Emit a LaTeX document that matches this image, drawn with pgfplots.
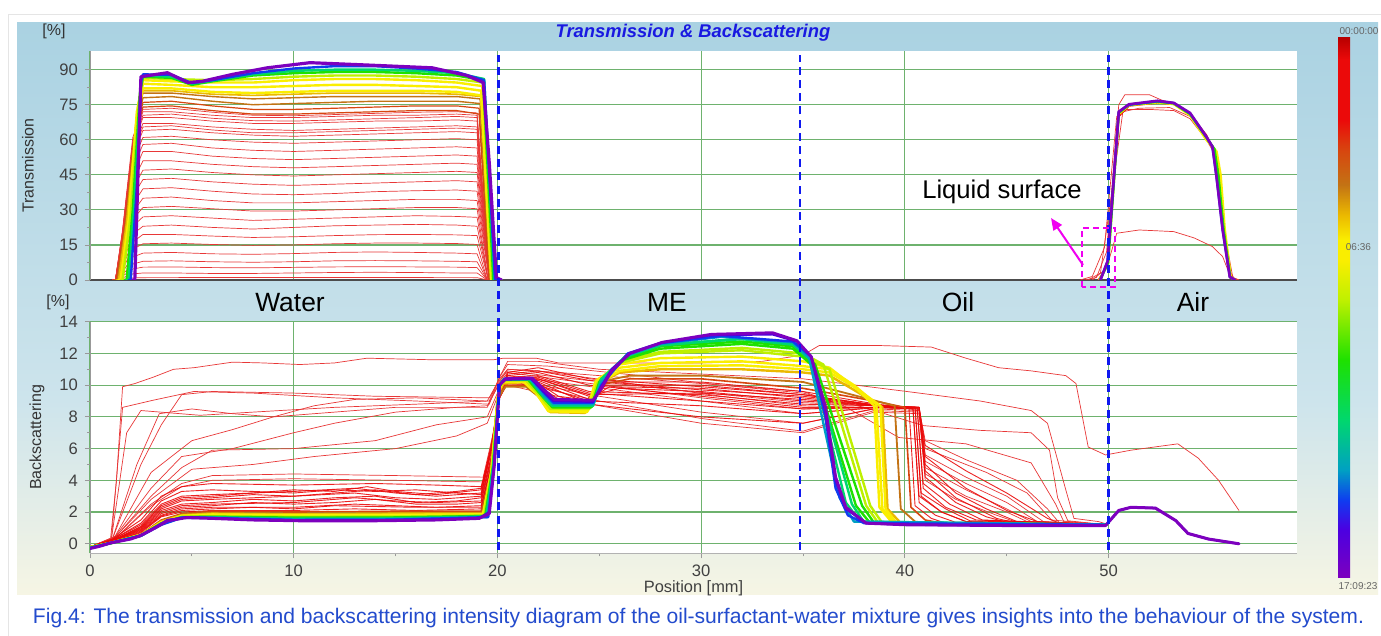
\documentclass[border=0pt]{standalone}
\usepackage{fontspec}
\setmainfont{Liberation Sans}
\usepackage{graphicx}
\usepackage{pgfplots}
\pgfplotsset{compat=1.18}
\usetikzlibrary{arrows.meta}

\definecolor{cDR}{RGB}{185,0,0}
\definecolor{cRe}{RGB}{235,10,10}
\definecolor{cRo}{RGB}{215,70,15}
\definecolor{cBr}{RGB}{195,115,20}
\definecolor{cOr}{RGB}{235,185,0}
\definecolor{cYe}{RGB}{250,238,0}
\definecolor{cYG}{RGB}{190,240,0}
\definecolor{cGr}{RGB}{30,225,0}
\definecolor{cGC}{RGB}{0,215,110}
\definecolor{cCy}{RGB}{0,160,195}
\definecolor{cBl}{RGB}{15,60,240}
\definecolor{cIn}{RGB}{75,0,225}
\definecolor{cVi}{RGB}{125,0,190}
\definecolor{lred}{RGB}{232,55,55}
\definecolor{gridg}{RGB}{110,178,110}
\definecolor{titleblue}{RGB}{25,25,225}
\definecolor{capblue}{RGB}{35,75,205}
\definecolor{dashblue}{RGB}{15,25,240}
\definecolor{mag}{RGB}{240,0,240}
\definecolor{ptop}{RGB}{170,210,226}
\definecolor{pmid}{RGB}{205,228,236}
\definecolor{pbot}{RGB}{246,245,228}

\pgfdeclareverticalshading{panelbg}{100bp}{color(0bp)=(pbot); color(25bp)=(pbot); color(42bp)=(pmid); color(75bp)=(ptop); color(100bp)=(ptop)}
\pgfdeclareverticalshading{timebar}{100bp}{color(0bp)=(cVi); color(25bp)=(cVi); color(29.5bp)=(cIn); color(32.2bp)=(cBl); color(35bp)=(cCy); color(39.6bp)=(cGC); color(45.2bp)=(cGr); color(50.7bp)=(cYG); color(54.4bp)=(cYe); color(56.3bp)=(cYe); color(58.6bp)=(cOr); color(61.4bp)=(cBr); color(64.6bp)=(cRo); color(67.4bp)=(cRe); color(73bp)=(cRe); color(75bp)=(cDR); color(100bp)=(cDR)}

\pgfplotsset{
  myaxis/.style={
    scale only axis, width=603.5pt, xmin=0, xmax=59.25,
    xtick={0,10,20,30,40,50},
    axis background/.style={fill=white},
    axis x line*=bottom, axis y line*=left,
    xmajorgrids, ymajorgrids,
    major grid style={draw=gridg, line width=0.6pt},
    tick align=outside, major tick length=2.5pt, minor tick length=1.5pt,
    tick style={draw=gray!80, line width=0.4pt},
    tick label style={font=\fontsize{8.3}{9}\selectfont, text=black!75},
    /pgf/number format/assume math mode=true,
    minor y tick num=1,
    every axis plot/.append style={line join=round, line cap=round},
  },
  redthin/.style={draw=lred, line width=0.35pt},
  redmid/.style={draw=cRe, line width=0.45pt, opacity=0.9},
  rbow/.style={draw=#1, line width=1.2pt},
}

\begin{document}
\begin{tikzpicture}
\path[use as bounding box] (0pt,0pt) rectangle (690.5pt,318pt);
\fill[white] (0pt,0pt) rectangle (690.5pt,318pt);
\draw[gray!20, line width=0.5pt] (4pt,0pt) -- (4pt,310.5pt) -- (690.5pt,310.5pt);
\shade[shading=panelbg] (8.5pt,20.5pt) rectangle (689pt,306.5pt);

% ---------------- Transmission ----------------
\begin{axis}[myaxis, at={(45pt,178pt)}, anchor=south west, height=114.5pt,
  ymin=0, ymax=98, ytick={0,15,...,90}, xticklabels={}, xtick style={draw=none},
  x axis line style={draw=black!70, line width=0.6pt},
  y axis line style={draw=gray!80},
  ylabel={Transmission},
  ylabel style={at={(axis description cs:-0.0514,0.5)}, anchor=center, font=\fontsize{8}{9}\selectfont, text=black!80}]
\addplot[redthin] coordinates {(1.1,0)(1.25,0)(1.6,0.3)(2.1,0.9)(2.6,1)(10,1.1)(19,1)(19.5,0)(20.2,0)};
\addplot[redthin] coordinates {(1.1,0)(1.25,0)(1.6,0.9)(2.1,2.6)(2.6,3)(4,3)(6,2.8)(8,2.8)(10,3)(12,3.2)(14,3.3)(16,3.2)(18,3)(19,3)(19.5,0)(20.2,0)};
\addplot[redthin] coordinates {(1.1,0)(1.25,0)(1.6,1.7)(2.1,4.7)(2.6,5.5)(4,5.6)(6,5.3)(8,5.2)(10,5.4)(12,5.6)(14,5.7)(16,5.6)(18,5.5)(19,5.3)(19.5,0)(20.2,0)};
\addplot[redthin] coordinates {(1.1,0)(1.25,0)(1.6,2.4)(2.1,6.8)(2.6,8)(4,8.2)(6,7.8)(8,7.6)(10,7.8)(12,8.2)(14,8.3)(16,8.2)(18,8)(19,7.8)(19.5,0)(20.2,0)};
\addplot[redthin] coordinates {(1.1,0)(1.25,0)(1.6,3.5)(2.1,9.8)(2.6,11.5)(4,11.8)(6,11.2)(8,11)(10,11.3)(12,11.8)(14,12)(16,11.8)(18,11.5)(19,11.2)(19.5,0)(20.2,0)};
\addplot[redthin] coordinates {(1.1,0)(1.25,0)(1.6,4.7)(2.1,13.2)(2.6,15.5)(4,15.8)(6,15.2)(8,14.8)(10,15)(12,15.5)(14,15.8)(16,15.8)(18,15.6)(19,15.2)(19.5,0)(20.2,0)};
\addplot[redthin] coordinates {(1.1,0)(1.25,0)(1.6,5.7)(2.1,16.2)(2.6,19.5)(4,19.5)(6,18.8)(8,18.2)(10,18.5)(12,19)(14,19.4)(16,19.5)(18,19.3)(19,19)(19.55,0)(20.2,0)};
\addplot[redthin] coordinates {(1.1,0)(1.25,0)(1.6,6.9)(2.1,19.6)(2.6,23)(4,23.5)(6,22.5)(8,21.8)(10,22.5)(12,23.2)(14,23.5)(16,23.8)(18,23.5)(19,23)(19.55,0)(20.2,0)};
\addplot[redthin] coordinates {(1.1,0)(1.25,0)(1.6,8.1)(2.1,23)(2.6,27)(4,27.5)(6,26.5)(8,25.5)(10,26)(12,26.5)(14,27)(16,27.5)(18,27.2)(19,26.8)(19.55,0)(20.2,0)};
\addplot[redthin] coordinates {(1.1,0)(1.25,0)(1.6,9.2)(2.1,26)(2.6,31)(4,31.5)(6,30.5)(8,29.5)(10,29.5)(12,30)(14,30.5)(16,31)(18,31)(19,30.5)(19.55,0)(20.2,0)};
\addplot[redthin] coordinates {(1.1,0)(1.25,0)(1.6,10.2)(2.1,29)(2.6,35)(4,35.5)(6,34)(8,33)(10,33)(12,33.5)(14,34)(16,34.5)(18,34.5)(19,34)(19.6,0)(20.2,0)};
\addplot[redthin] coordinates {(1.1,0)(1.25,0)(1.6,11.4)(2.1,32.3)(2.6,39)(4,39.5)(6,38)(8,36.8)(10,36.5)(12,37)(14,37.8)(16,38.2)(18,38.5)(19,38)(19.6,0)(20.2,0)};
\addplot[redthin] coordinates {(1.1,0)(1.25,0)(1.6,12.6)(2.1,35.7)(2.6,43)(4,43.5)(6,42)(8,41)(10,40.5)(12,41)(14,41.5)(16,42)(18,42.5)(19,42)(19.6,0)(20.2,0)};
\addplot[redthin] coordinates {(1.1,0)(1.25,0)(1.6,13.8)(2.1,39.1)(2.6,47)(4,47.5)(6,46)(8,45)(10,44.5)(12,45)(14,45.5)(16,46)(18,46.5)(19,46)(19.6,0)(20.2,0)};
\addplot[redthin] coordinates {(1.1,0)(1.25,0)(1.6,14.9)(2.1,42)(2.6,51)(4,51)(6,49.5)(8,48.5)(10,48)(12,48.5)(14,49)(16,49.5)(18,50)(19,49.5)(19.6,0)(20.2,0)};
\addplot[redthin] coordinates {(1.1,0)(1.25,0)(1.6,15.9)(2.1,45)(2.6,55)(4,55)(6,53)(8,52)(10,51.5)(12,52)(14,52.5)(16,53)(18,53.5)(19,53)(19.6,0)(20.2,0)};
\addplot[redthin] coordinates {(1.1,0)(1.25,0)(1.6,17)(2.1,48)(2.6,58)(4,58.5)(6,56.5)(8,55.5)(10,55)(12,55.5)(14,56)(16,56.5)(18,57)(19,56.5)(19.6,0)(20.2,0)};
\addplot[redthin] coordinates {(1.1,0)(1.25,0)(1.6,17.9)(2.1,50.6)(2.6,61)(4,61.5)(6,60)(8,59)(10,58.5)(12,59)(14,59.5)(16,60)(18,60.5)(19,60)(19.6,0)(20.2,0)};
\addplot[redthin] coordinates {(1.1,0)(1.25,0)(1.6,18.8)(2.1,53)(2.6,64)(4,64.5)(6,63)(8,62)(10,61.5)(12,62)(14,62.5)(16,63)(18,63.5)(19,63)(19.6,0)(20.2,0)};
\addplot[redthin] coordinates {(1.1,0)(1.25,0)(1.6,19.2)(2.1,54.4)(2.6,65.5)(4,66)(6,64.2)(8,63)(10,63)(12,63.5)(14,64)(16,64.5)(18,65)(19,64.5)(19.6,0)(20.2,0)};
\addplot[redthin] coordinates {(1.1,0)(1.25,0)(1.6,19.5)(2.1,55)(2.6,67)(4,67)(6,65.5)(8,64.5)(10,64)(12,64.5)(14,65)(16,65.5)(18,66)(19,65.5)(19.6,0)(20.2,0)};
\addplot[redthin] coordinates {(1.1,0)(1.25,0)(1.6,20.3)(2.1,57.4)(2.6,69.5)(4,69.5)(6,68)(8,67)(10,67)(12,67.5)(14,68)(16,68)(18,68.5)(19,68)(19.6,0)(20.2,0)};
\addplot[redthin] coordinates {(1.1,0)(1.25,0)(1.6,20.7)(2.1,58.6)(2.6,70.5)(4,71)(6,69.2)(8,68.2)(10,68)(12,68.5)(14,69)(16,69.5)(18,70)(19,69.5)(19.6,0)(20.2,0)};
\addplot[redthin] coordinates {(1.1,0)(1.25,0)(1.6,21)(2.1,59.5)(2.6,72)(4,72)(6,70.5)(8,69.5)(10,69.5)(12,70)(14,70.5)(16,70.5)(18,71)(19,70.5)(19.6,0)(20.2,0)};
\addplot[redthin] coordinates {(1.1,0)(1.25,0)(1.6,21.5)(2.1,61)(2.6,73)(4,73.5)(6,71.8)(8,70.5)(10,70.3)(12,70.8)(14,71.3)(16,71.8)(18,72)(19,71.5)(19.6,0)(20.2,0)};
\addplot[draw=cRo, line width=0.6pt] coordinates {(1.2,0)(1.3,0)(1.7,22)(2.2,62)(2.6,74)(4,74.5)(6,72.5)(8,71)(10,71)(12,71.5)(14,72)(16,72.5)(18,72.5)(19.1,71)(19.6,0)(20.2,0)};
\addplot[draw=cRo, line width=0.6pt] coordinates {(1.2,0)(1.3,0)(1.7,22.5)(2.2,63)(2.6,76)(4,76.5)(6,74.5)(8,73)(10,73)(12,73.5)(14,74)(16,74.5)(18,74.5)(19.1,73.5)(19.6,0)(20.2,0)};
\addplot[draw=cBr, line width=0.7pt] coordinates {(1.2,0)(1.35,0)(1.75,23)(2.25,65)(2.6,78)(4,78.5)(6,76.5)(8,75)(10,75.5)(12,76)(14,76.5)(16,76.5)(18,76.5)(19.15,75.5)(19.65,0)(20.2,0)};
\addplot[draw=cBr, line width=0.7pt] coordinates {(1.2,0)(1.35,0)(1.75,24)(2.25,67)(2.6,80)(4,80)(6,78.5)(8,77.5)(10,78)(12,78.5)(14,78.5)(16,78.5)(18,78.5)(19.15,77.5)(19.65,0)(20.2,0)};
\addplot[draw=cOr, line width=0.8pt] coordinates {(1.3,0)(1.4,0)(1.8,25)(2.3,69)(2.6,81)(4,81)(6,79.5)(8,79)(10,79.5)(12,80)(14,80)(16,80)(18,79.5)(19.2,78.5)(19.7,0)(20.2,0)};
\addplot[rbow=cYe] coordinates {(1.4,0)(1.5,0)(1.9,25)(2.3,70)(2.6,82)(4,82)(6,80.5)(8,80)(10,80.5)(12,81)(14,81)(16,81)(18,80.5)(19.2,79)(19.7,0)(20.2,0)};
\addplot[rbow=cYe] coordinates {(1.4,0)(1.5,0)(1.9,26)(2.3,72)(2.6,84)(4,83.5)(6,82.5)(8,82.5)(10,83)(12,83.5)(14,83.5)(16,83)(18,82.5)(19.2,81)(19.7,0)(20.2,0)};
\addplot[rbow=cYe] coordinates {(1.45,0)(1.55,0)(1.95,27)(2.35,74)(2.6,85.5)(4,85)(6,84.5)(8,84.5)(10,85.5)(12,86)(14,86)(16,85.5)(18,84.5)(19.25,83)(19.72,0)(20.2,0)};
\addplot[rbow=cYG] coordinates {(1.5,0)(1.6,0)(2.0,28)(2.4,76)(2.6,86.5)(4,86)(6,85.5)(8,86)(10,87)(12,87.5)(14,87.5)(16,87)(18,86)(19.3,84.5)(19.75,0)(20.2,0)};
\addplot[rbow=cGr] coordinates {(1.7,0)(1.8,0)(2.1,30)(2.45,80)(2.6,87)(4,86.5)(5,83.5)(6,85)(8,87.5)(10,88.5)(12,89)(14,89)(16,88.5)(18,87.5)(19.3,85.5)(19.8,0)(20.2,0)};
\addplot[rbow=cGC] coordinates {(1.8,0)(1.9,0)(2.2,35)(2.5,84)(2.6,87.5)(4,87)(5,84)(6,85.3)(8,88)(10,89.5)(12,90)(14,90)(16,89.5)(18,88.5)(19.35,86)(19.85,0)(20.2,0)};
\addplot[rbow=cBl] coordinates {(1.9,0)(2.0,0)(2.3,40)(2.5,85)(2.6,88)(4,87.8)(5,84.3)(6,85.5)(8,88.5)(10,90.5)(12,91.5)(14,91.5)(16,90.5)(18,89)(19.35,85.5)(19.88,0)(20.2,0)};
\addplot[draw=cVi, line width=1.6pt] coordinates {(2.1,0)(2.2,0)(2.5,87)(3.8,88.7)(4.8,84.5)(5.5,85)(7,88)(8.7,90.8)(10.8,93)(13.6,92)(16.8,90.8)(18.5,87.5)(19.3,84.5)(19.6,50)(19.95,1)(20.2,0)};
% air region
\addplot[redthin] coordinates {(48.8,0)(49.4,1)(49.9,12)(50.5,75)(50.8,79.3)(52,79.3)(52.6,77)(53.2,75.5)(54,71)(54.8,61)(55.2,55)(55.4,45)(55.6,22)(56,1.5)(56.4,0)};
\addplot[redthin] coordinates {(48.6,0)(49.2,1.5)(49.8,14)(50.4,70)(50.9,73)(52,73)(53.2,72.5)(54,69)(54.8,60)(55.2,54)(55.4,44)(55.7,20)(56.1,1)(56.4,0)};
\addplot[redthin] coordinates {(49.0,0)(49.6,3)(50.2,40)(50.7,72)(51.5,73.5)(53,73.8)(54,70)(54.8,62)(55.3,52)(55.5,35)(55.9,5)(56.2,0)};
\addplot[redthin] coordinates {(49.2,0)(49.9,5)(50.4,20)(51.5,21.4)(52.5,21)(53.2,20.7)(54.2,18)(55.1,14.3)(55.6,10)(56,1)(56.3,0)};
\addplot[draw=cRe, line width=0.8pt] coordinates {(49.5,0)(49.95,6)(50.5,70)(51,74.5)(52.4,75.8)(53.2,75.2)(54,71)(54.8,62)(55.3,53)(55.5,42)(55.7,20)(56.0,1)(56.2,0)};
\addplot[rbow=cYe] coordinates {(49.55,0)(49.97,7)(50.5,71)(51,74.8)(52.4,76)(53.2,75.3)(54,70.5)(54.8,60)(55.3,55)(55.5,45)(55.7,22)(56,1)(56.2,0)};
\addplot[rbow=cGr] coordinates {(49.58,0)(49.98,7.5)(50.5,71.5)(51,75)(52.4,76.3)(53.2,75.6)(54,71)(54.8,61)(55.2,56)(55.4,44)(55.65,21.5)(55.97,1.2)(56.2,0)};
\addplot[rbow=cBl] coordinates {(49.6,0)(49.95,8)(50.5,72)(51,75)(52.4,76.5)(53.2,75.7)(54,71.3)(54.8,61.2)(55.1,57)(55.3,44)(55.6,21.4)(55.95,1.3)(56.2,0)};
\addplot[draw=cVi, line width=1.3pt] coordinates {(49.6,0)(49.95,8)(50.5,72)(51,75.2)(52.4,76.7)(53.2,75.8)(54,71.5)(54.8,61.3)(55.1,57)(55.3,44)(55.6,21.4)(55.95,1.3)(56.2,0)};
\end{axis}

% ---------------- Backscattering ----------------
\begin{axis}[myaxis, at={(45pt,41.35pt)}, anchor=south west, height=115.8pt,
  ymin=-0.6, ymax=14, ytick={0,2,...,14}, minor x tick num=1,
  x axis line style={draw=gray!60, line width=0.6pt},
  y axis line style={draw=gray!80},
  ylabel={Backscattering},
  ylabel style={at={(axis description cs:-0.0439,0.5)}, anchor=center, font=\fontsize{8}{9}\selectfont, text=black!80},
  xlabel={Position [mm]},
  xlabel style={at={(axis description cs:0.5,-0.152)}, anchor=center, inner sep=1pt, font=\fontsize{8.2}{9}\selectfont, text=black!75}]
% early curves (thin red)
\addplot[redthin] coordinates {(0,-0.2)(1.0,0.2)(1.3,4)(1.6,9.9)(2.2,10.1)(3.1,10.5)(4.1,11.0)(5.1,11.1)(7,11.45)(8.5,11.4)(10.3,11.3)(12,11.4)(13.6,11.7)(16.8,11.6)(19.8,11.6)(20.3,11.7)(21.9,11.7)(23,11.4)(26,11.4)(30,11.4)(33,11.5)(35,11.9)(35.8,12.5)(38.7,12.5)(41.3,12.4)(43,11.7)(44.6,11.1)(46.2,10.9)(47.9,10.6)(48.4,10.1)(49,6.1)(49.85,5.6)(51.1,5.9)(53.4,6.3)(54.4,5.4)(55.4,4.0)(56.4,2.1)};
\addplot[redthin] coordinates {(0,-0.2)(1.05,0.3)(1.6,8.6)(3.1,9.05)(5.1,9.6)(8,9.5)(12,9.2)(16,9.0)(19.6,8.8)(20.1,10.5)(20.5,11.5)(22,11.5)(25,11.0)(30,10.7)(35,10.4)(36.3,10.2)(37.6,10.0)(40.1,9.6)(43.7,9.0)(46.2,8.4)(47,7.6)(47.9,3.4)(48.3,1.6)(49.5,1.4)(49.9,1.25)};
\addplot[redthin] coordinates {(0,-0.2)(1.05,0.3)(1.8,7)(2.5,8.4)(5.4,8.1)(8,8.3)(12,8.6)(16,8.8)(19.6,9.0)(20.1,10.5)(20.5,11.3)(22.5,11.2)(27,10.6)(31,10.0)(35,9.5)(38,8.6)(40.9,7.45)(43.7,7.15)(46.2,7.0)(47.1,5.9)(47.5,2.9)(48,1.45)(49.9,1.2)};
\addplot[redthin] coordinates {(0,-0.2)(1.1,0.3)(2.5,5)(3.5,7.5)(4.5,9.4)(6,9.6)(10,9.5)(14,9.3)(19.6,9.2)(20.1,10.4)(20.5,11.0)(23,10.8)(28,10.3)(35,9.6)(37,8.7)(39.7,6.7)(43,6.3)(46.2,5.1)(47.4,2.5)(47.8,1.4)(49.9,1.2)};
\addplot[redthin] coordinates {(0,-0.2)(1.1,0.3)(2.3,5)(3.4,8.2)(5,8.5)(7,8.2)(9,8.0)(12,8.3)(15,8.6)(19.5,8.6)(20.1,10.2)(20.5,11.0)(22,10.9)(26,10.2)(31,9.3)(35,8.7)(38,8.6)(40.7,8.5)(41,6.5)(43,5.3)(45.5,4.0)(47,2.2)(47.6,1.3)(49.9,1.2)};
\addplot[redthin] coordinates {(0,-0.2)(1.2,0.4)(3,4.5)(5,6.5)(7,7.2)(9,8.0)(11,8.7)(13,9.1)(16,9.2)(19.5,9.0)(20.1,10.3)(20.5,10.9)(23,10.5)(28,9.8)(35,8.9)(38.5,8.7)(40.7,8.6)(41,6)(44,4.5)(46,3.2)(47.2,1.5)(49.9,1.2)};
\addplot[redthin] coordinates {(0,-0.2)(1.2,0.4)(3,3.5)(4.5,5.5)(7,6.0)(10,7.0)(12,7.6)(15,8.3)(18,8.6)(19.5,8.7)(20.1,10.1)(20.5,10.8)(24,10.2)(30,9.2)(35,8.5)(38.5,8.6)(40.7,8.5)(41,5.6)(43,4.2)(45,3.0)(46.8,1.4)(49.9,1.2)};
\addplot[redthin] coordinates {(0,-0.2)(1.3,0.5)(3,3)(4.5,4.8)(6,5.9)(10,6.0)(14,6.5)(17,7.5)(19.5,8.0)(20.1,9.8)(20.5,10.6)(24,10.0)(30,9.0)(35,8.2)(38.5,8.6)(40.7,8.5)(41,5.2)(43,3.8)(45,2.6)(46.5,1.4)(49.9,1.2)};
\addplot[redthin] coordinates {(0,-0.2)(1.3,0.5)(3,2.8)(5,4.7)(8,5.0)(11,5.5)(15,6.0)(18,6.8)(19.5,7.6)(20.1,9.6)(20.5,10.4)(25,9.3)(30,8.3)(35,7.6)(38.5,8.5)(40.7,8.4)(41,4.8)(43,3.4)(45,2.2)(46.2,1.4)(49.9,1.2)};
\addplot[redthin] coordinates {(0,-0.2)(1.3,0.4)(3,2.5)(4.5,3.8)(6,4.3)(10,4.4)(15,4.3)(19.3,4.2)(19.8,7)(20.2,10)(20.5,10.3)(25,9.0)(30,7.9)(35,7.1)(38.5,8.4)(40.7,8.3)(41,4.4)(43,3.0)(45,2.0)(46,1.4)(49.9,1.2)};
\addplot[redthin] coordinates {(0,-0.2)(1.3,0.4)(3,2.4)(4.5,3.6)(6,4.0)(10,4.1)(15,4.0)(19.3,3.9)(19.8,7)(20.2,9.8)(20.5,10.0)(25,8.7)(30,7.6)(35,7.0)(38.5,8.3)(40.7,8.2)(41,4.0)(42.5,2.8)(44.5,1.8)(45.5,1.35)(49.9,1.2)};
% later red curves
\addplot[redmid] coordinates {(0,-0.2)(1.1,0.3)(2.5,1.5)(3.5,3.0)(4.5,3.6)(6,3.8)(10,3.7)(14,3.8)(17,3.7)(19.2,3.6)(19.7,6)(20.1,9.5)(20.5,10.6)(22,10.8)(24.5,10.0)(30,9.3)(35,8.6)(38.8,8.6)(40.7,8.6)(41,5.0)(42.5,3.2)(44,2.2)(45.5,1.4)(49.9,1.2)};
\addplot[redmid] coordinates {(0,-0.2)(1.1,0.25)(2.5,1.3)(3.5,2.7)(4.5,3.3)(6,3.4)(8,3.3)(10,3.2)(12,3.4)(14,3.3)(16,3.4)(18,3.2)(19.2,3.1)(19.7,5.8)(20.1,9.4)(20.5,10.8)(22,11.1)(24.5,10.4)(30,9.9)(35,9.4)(38.8,8.7)(40.7,8.6)(41,6.2)(43,4.6)(45,3.2)(47,1.6)(47.6,1.3)(49.9,1.2)};
\addplot[redmid] coordinates {(0,-0.2)(1.1,0.2)(2.5,1.1)(3.5,2.4)(4.5,2.9)(6,3.0)(8,3.2)(10,3.4)(12,3.3)(13.6,3.6)(15,3.3)(17,3.1)(19.2,3.4)(19.7,6)(20.1,9.4)(20.5,10.4)(22,10.5)(24.5,9.5)(30,9.0)(35,8.5)(38.8,8.6)(40.7,8.5)(41,4.6)(42.5,2.9)(44.5,1.6)(45.5,1.3)(49.9,1.2)};
\addplot[redmid] coordinates {(0,-0.2)(1.1,0.2)(2.5,1.05)(3.5,2.3)(4.5,2.8)(6,2.9)(8,3.1)(10,3.0)(12,3.2)(14,3.4)(16,3.1)(18,3.3)(19.2,3.5)(19.7,6.2)(20.1,9.5)(20.5,10.7)(22,10.9)(24.5,10.3)(30,9.7)(35,9.3)(38.8,8.7)(40.7,8.6)(41,5.5)(43,3.5)(45,2.1)(46.5,1.4)(49.9,1.2)};
\addplot[redmid] coordinates {(0,-0.2)(1.1,0.25)(2.5,1.2)(3.5,2.5)(4.5,3.0)(6,3.1)(10,3.3)(13,3.5)(15,3.2)(17,3.0)(19.2,3.2)(19.7,6)(20.1,9.5)(20.5,10.5)(22,10.6)(24.5,9.6)(30,9.4)(35,8.8)(38.8,8.7)(40.7,8.6)(41,4.2)(42.5,2.6)(44,1.7)(45,1.35)(49.9,1.2)};
\addplot[redmid] coordinates {(0,-0.2)(1.1,0.2)(2.5,1.0)(3.5,2.2)(4.5,2.7)(6,2.8)(10,3.0)(13,3.2)(15,2.9)(17,2.8)(19.2,3.0)(19.7,6)(20.1,9.4)(20.5,10.4)(22,10.4)(24.5,9.3)(26,9.8)(30,9.6)(35,9.0)(38.8,8.7)(40.6,8.6)(40.9,3.5)(42,2.3)(43.5,1.5)(49.9,1.2)};
\addplot[redmid] coordinates {(0,-0.2)(1.1,0.2)(2.5,0.95)(3.5,2.1)(4.5,2.5)(6,2.6)(8,2.8)(10,2.7)(12,2.9)(14,3.0)(16,2.6)(18,2.7)(19.2,2.9)(19.7,5.5)(20.1,9.3)(20.5,10.3)(22,10.4)(24.5,9.4)(30,9.5)(35,9.1)(38.8,8.7)(40.5,8.6)(40.8,3.2)(42,2.2)(43.2,1.45)(49.9,1.2)};
\addplot[redmid] coordinates {(0,-0.2)(1.1,0.2)(2.5,0.9)(3.5,2.0)(4.5,2.4)(6,2.5)(10,2.6)(13,2.9)(15,2.7)(17,2.6)(19.2,2.7)(19.7,5.5)(20.1,9.3)(20.5,10.3)(22,10.3)(24.5,9.1)(25.5,9.9)(30,9.8)(35,9.2)(38.8,8.7)(40.5,8.6)(40.8,3)(41.8,2.0)(43,1.4)(49.9,1.2)};
\addplot[redmid] coordinates {(0,-0.2)(1.1,0.2)(2.5,0.85)(3.5,1.9)(4.5,2.3)(6,2.4)(8,2.6)(10,2.5)(12,2.6)(14,2.8)(16,2.5)(18,2.5)(19.2,2.6)(19.7,5.3)(20.1,9.2)(20.5,10.1)(22,10.0)(24.5,9.0)(30,8.7)(35,8.2)(38.8,8.6)(40.6,8.6)(40.9,3.8)(42.2,2.5)(43.8,1.5)(49.9,1.2)};
\addplot[redmid] coordinates {(0,-0.2)(1.1,0.2)(2.5,0.8)(3.5,1.8)(4.5,2.2)(6,2.3)(10,2.3)(13,2.5)(15,2.4)(17,2.3)(19.2,2.4)(19.7,5)(20.1,9.2)(20.5,10.3)(21.8,10.3)(23,9.3)(24.7,9.0)(25.3,10.0)(30,10.0)(35,9.4)(38.8,8.7)(40.4,8.5)(40.7,2.6)(41.5,1.8)(42.5,1.35)(49.9,1.2)};
\addplot[redmid] coordinates {(0,-0.2)(1.1,0.15)(2.5,0.75)(3.5,1.75)(4.5,2.1)(6,2.2)(8,2.3)(10,2.2)(12,2.4)(14,2.35)(16,2.3)(18,2.3)(19.2,2.3)(19.7,5)(20.1,9.2)(20.5,10.2)(22,10.2)(24.5,8.8)(30,8.0)(35,7.6)(38.8,8.6)(40.4,8.5)(40.7,3.0)(41.8,2.0)(43,1.4)(49.9,1.2)};
\addplot[redmid] coordinates {(0,-0.2)(1.1,0.15)(2.5,0.7)(3.5,1.7)(4.5,2.0)(6,2.1)(10,2.1)(13,2.2)(16,2.1)(19.2,2.2)(19.7,5)(20.1,9.2)(20.5,10.2)(21.8,10.2)(23,9.1)(24.7,8.9)(25.3,10.2)(30,10.2)(35,9.6)(38.6,8.8)(40.2,8.6)(40.5,2.4)(41.3,1.6)(42,1.3)(49.9,1.2)};
% orange / brown
\addplot[draw=cRo, line width=0.8pt] coordinates {(0,-0.2)(1.1,0.1)(2.5,0.6)(3.5,1.5)(4.5,1.9)(6,2.05)(10,2.0)(15,2.05)(19.2,2.05)(19.6,4)(20.0,9)(20.4,10.0)(21.5,10.0)(22.3,9.2)(24.3,8.9)(25,10.0)(26.5,10.4)(30,10.4)(35,9.8)(38.5,9.0)(40.0,8.6)(40.3,2.3)(41,1.5)(42,1.25)(49.9,1.2)};
\addplot[draw=cBr, line width=0.9pt] coordinates {(0,-0.2)(1.1,0.08)(2.5,0.58)(3.5,1.45)(4.5,1.85)(6,1.95)(10,1.9)(15,1.95)(19.25,1.95)(19.65,4.2)(20.0,9.2)(20.4,9.9)(21.4,9.9)(22.2,9.1)(24.4,8.7)(25,10.2)(26.5,10.6)(30,10.6)(35,10.2)(38,9.2)(39.5,8.7)(39.8,2.2)(40.5,1.4)(41.5,1.25)(49.9,1.2)};
\addplot[rbow=cOr] coordinates {(0,-0.22)(1.05,0.07)(2.5,0.56)(3.5,1.4)(4.5,1.8)(6,1.9)(10,1.85)(15,1.9)(19.3,1.9)(19.7,4.4)(20.05,9.5)(20.3,10.1)(21.3,10.2)(22.0,9.4)(22.6,8.3)(24.3,8.25)(24.8,10)(26,10.8)(28,11.0)(32,11.0)(35,10.8)(36.3,10.6)(37.5,9.7)(38.9,8.6)(39.15,2.2)(39.8,1.3)(49.9,1.2)};
% yellow
\addplot[rbow=cYe] coordinates {(0,-0.22)(1.05,0.06)(2.5,0.55)(3.5,1.35)(4.5,1.75)(6,1.85)(10,1.8)(15,1.82)(19.3,1.86)(19.7,4.5)(20.05,9.6)(20.25,10.2)(21.3,10.2)(21.9,9.5)(22.5,8.35)(24.4,8.3)(24.8,10.0)(26,10.9)(28,11.2)(32,11.25)(35,11.0)(36.3,10.8)(37.5,9.9)(38.8,8.7)(39.05,2.2)(39.6,1.3)(49.9,1.2)};
\addplot[rbow=cYe] coordinates {(0,-0.22)(1.05,0.06)(2.5,0.55)(3.5,1.35)(4.5,1.75)(6,1.82)(10,1.78)(15,1.8)(19.3,1.85)(19.7,4.5)(20.05,9.6)(20.25,10.2)(21.3,10.2)(21.9,9.5)(22.5,8.4)(24.4,8.35)(24.8,10.2)(26,11.1)(28,11.4)(32,11.5)(35,11.2)(36.3,11.0)(37.5,10.0)(38.6,8.8)(38.9,2.2)(39.5,1.3)(49.9,1.2)};
\addplot[rbow=cYe] coordinates {(0,-0.23)(1.05,0.06)(2.5,0.54)(3.5,1.33)(4.5,1.72)(6,1.78)(10,1.75)(15,1.77)(19.3,1.8)(19.72,4.5)(20.05,9.6)(20.25,10.2)(21.35,10.25)(22.0,9.4)(22.55,8.45)(24.45,8.4)(24.85,10.3)(26,11.3)(28,11.7)(32,11.8)(35,11.5)(36.3,11.1)(37.6,9.8)(38.5,8.7)(38.75,2.3)(39.4,1.3)(49.9,1.2)};
\addplot[rbow=cYG] coordinates {(0,-0.24)(1.05,0.05)(2.5,0.53)(3.5,1.3)(4.5,1.7)(6,1.75)(10,1.7)(15,1.72)(19.35,1.78)(19.75,4.7)(20.08,9.8)(20.25,10.3)(21.4,10.3)(22.1,9.3)(22.6,8.5)(24.5,8.5)(24.9,10.1)(26,11.4)(28,12.0)(32,12.2)(35,11.8)(36.3,11.0)(38.3,2.4)(38.9,1.3)(49.9,1.2)};
\addplot[rbow=cYG] coordinates {(0,-0.24)(1.05,0.05)(2.5,0.53)(3.5,1.29)(4.5,1.69)(6,1.73)(10,1.68)(15,1.7)(19.37,1.77)(19.76,4.75)(20.09,9.85)(20.27,10.32)(21.45,10.32)(22.15,9.3)(22.65,8.55)(24.55,8.55)(24.95,10.15)(26.1,11.5)(28,12.1)(32,12.35)(35,12.0)(36.0,11.3)(38.1,2.4)(38.7,1.3)(49.9,1.2)};
% green
\addplot[rbow=cGr] coordinates {(0,-0.25)(1.05,0.05)(2.5,0.52)(3.5,1.28)(4.5,1.68)(6,1.7)(10,1.65)(15,1.66)(19.4,1.75)(19.78,4.8)(20.1,9.9)(20.3,10.35)(21.5,10.35)(22.2,9.3)(22.7,8.6)(24.6,8.6)(25.0,10.2)(26.2,11.6)(28,12.3)(32,12.6)(34.5,12.3)(35.5,11.2)(37.6,2.4)(38.3,1.3)(49.9,1.2)};
\addplot[rbow=cGr] coordinates {(0,-0.25)(1.05,0.05)(2.5,0.52)(3.5,1.27)(4.5,1.67)(6,1.69)(10,1.62)(15,1.64)(19.42,1.74)(19.79,4.85)(20.1,9.95)(20.3,10.35)(21.55,10.35)(22.25,9.25)(22.7,8.65)(24.65,8.65)(25.05,10.3)(26.25,11.7)(28,12.45)(32,12.75)(34.5,12.45)(35.6,11.3)(37.9,2.4)(38.5,1.3)(49.9,1.2)};
\addplot[rbow=cGC] coordinates {(0,-0.26)(1.03,0.05)(2.5,0.51)(3.5,1.25)(4.5,1.66)(6,1.67)(10,1.58)(15,1.6)(19.45,1.72)(19.8,4.9)(20.1,10)(20.3,10.35)(21.6,10.35)(22.3,9.2)(22.7,8.7)(24.7,8.7)(25.1,10.4)(26.3,11.8)(28,12.5)(32,12.95)(34.5,12.6)(35.4,11.6)(37.1,2.6)(37.8,1.4)(49.9,1.2)};
\addplot[rbow=cGC] coordinates {(0,-0.26)(1.03,0.05)(2.5,0.51)(3.5,1.24)(4.5,1.65)(6,1.66)(10,1.56)(15,1.58)(19.47,1.71)(19.81,4.95)(20.1,10)(20.32,10.38)(21.62,10.38)(22.3,9.25)(22.72,8.75)(24.7,8.75)(25.1,10.35)(26.3,11.85)(28,12.55)(32,12.9)(34.5,12.55)(35.45,11.5)(37.4,2.5)(38.0,1.35)(49.9,1.2)};
% blue
\addplot[rbow=cCy] coordinates {(0,-0.27)(1.02,0.05)(2.5,0.51)(3.5,1.22)(4.5,1.65)(6,1.65)(10,1.53)(15,1.55)(19.5,1.68)(19.83,5)(20.1,10)(20.35,10.4)(21.6,10.4)(22.3,9.3)(22.75,8.8)(24.7,8.8)(25.1,10.2)(26.4,11.9)(28,12.6)(31,13.05)(34.5,12.7)(35.3,11.7)(36.8,2.9)(37.5,1.4)(49.9,1.2)};
\addplot[rbow=cBl] coordinates {(0,-0.28)(1.01,0.05)(2.5,0.5)(3.5,1.2)(4.5,1.64)(6,1.62)(10,1.5)(15,1.52)(19.55,1.68)(19.85,5)(20.1,10)(20.35,10.4)(21.7,10.4)(22.3,9.5)(22.75,8.9)(24.7,8.9)(25.1,10.0)(26.4,12.0)(28,12.65)(31,13.1)(34.5,12.75)(35.4,11.8)(36.1,8.0)(36.6,3.5)(37.2,1.8)(38,1.3)(49.9,1.2)};
% indigo / violet
\addplot[draw=cIn, line width=1.1pt] coordinates {(0,-0.28)(1.0,0.05)(2.0,0.32)(2.5,0.55)(3.2,1.05)(3.8,1.5)(4.75,1.68)(6,1.62)(8,1.52)(10.3,1.48)(14,1.48)(17,1.52)(19.1,1.62)(19.6,2.0)(19.85,5.2)(20.1,10.0)(20.4,10.35)(21.65,10.4)(22.25,9.6)(22.75,9.0)(24.7,8.95)(25.1,9.9)(25.6,11.0)(26.5,12.0)(28.1,12.7)(30.5,13.15)(33.5,13.2)(34.7,12.75)(35.4,11.8)(36.1,8.4)(36.6,4.0)(37.1,2.2)(38.1,1.3)(40,1.2)(45,1.15)(49.85,1.15)(50.5,2.1)(51.1,2.3)(52.3,2.25)(53.3,1.46)(53.9,0.65)(54.9,0.3)(56.4,0.0)};
\addplot[draw=cVi, line width=1.5pt] coordinates {(0,-0.3)(0.5,-0.15)(1.0,0.05)(2.0,0.3)(2.45,0.5)(3.2,1.0)(3.8,1.45)(4.75,1.65)(6,1.6)(8,1.5)(10.3,1.45)(14,1.45)(17,1.5)(19.1,1.6)(19.6,1.9)(19.85,5)(20.1,10.0)(20.4,10.4)(21.7,10.45)(22.3,9.7)(22.8,9.1)(24.7,9.05)(25.1,9.8)(25.6,10.9)(26.5,12.0)(28.1,12.7)(30.5,13.2)(33.5,13.3)(34.7,12.8)(35.4,11.8)(36.1,8.6)(36.6,4.2)(37.1,2.3)(38.1,1.3)(40,1.2)(45,1.15)(49.85,1.15)(50.5,2.1)(51.1,2.3)(52.3,2.25)(53.3,1.46)(53.9,0.65)(54.9,0.3)(56.4,0.0)};
\end{axis}

% ---------------- overlays ----------------
\foreach \xx in {249.2,400,554.2}{
  \draw[dashblue, line width=1.2pt, dash pattern=on 4pt off 2.6pt] (\xx pt,43pt) -- (\xx pt,290.5pt);
}
\node[font=\fontsize{9.2}{11}\selectfont\bfseries\itshape, text=titleblue] at (346.5pt,301.5pt) {Transmission \& Backscattering};
\node[font=\fontsize{8}{9}\selectfont, text=black!80] at (27pt,302.5pt) {[\%]};
\node[font=\fontsize{8}{9}\selectfont, text=black!80] at (29pt,167pt) {[\%]};
\node[font=\fontsize{13.2}{15}\selectfont, anchor=base] at (145pt,162pt) {Water};
\node[font=\fontsize{13.2}{15}\selectfont, anchor=base] at (333.5pt,162pt) {ME};
\node[font=\fontsize{13.2}{15}\selectfont, anchor=base] at (479pt,162pt) {Oil};
\node[font=\fontsize{13.2}{15}\selectfont, anchor=base] at (596.5pt,162pt) {Air};
\node[font=\fontsize{12.8}{15}\selectfont, anchor=base] at (501pt,218.5pt) {Liquid surface};
\draw[mag, line width=0.9pt, dash pattern=on 3pt off 2pt] (541pt,174.5pt) rectangle (557.5pt,204pt);
\draw[mag, line width=1pt, -{Triangle[length=6pt,width=5pt]}] (541.5pt,185.5pt) -- (525.5pt,209pt);
% colour bar
\shade[shading=timebar] (669pt,29pt) rectangle (675pt,299pt);
\node[font=\fontsize{5}{6}\selectfont, text=black!60] at (679.5pt,302.5pt) {00:00:00};
\node[font=\fontsize{5}{6}\selectfont, text=black!60, anchor=east] at (689pt,194.5pt) {06:36};
\node[font=\fontsize{5}{6}\selectfont, text=black!60] at (679pt,25pt) {17:09:23};
% caption
\node[text=capblue, inner sep=0pt] at (349.25pt,9pt) {\resizebox{665.5pt}{!}{\fontsize{9.6}{11}\selectfont Fig.4: The transmission and backscattering intensity diagram of the oil-surfactant-water mixture gives insights into the behaviour of the system.}};
\end{tikzpicture}
\end{document}
